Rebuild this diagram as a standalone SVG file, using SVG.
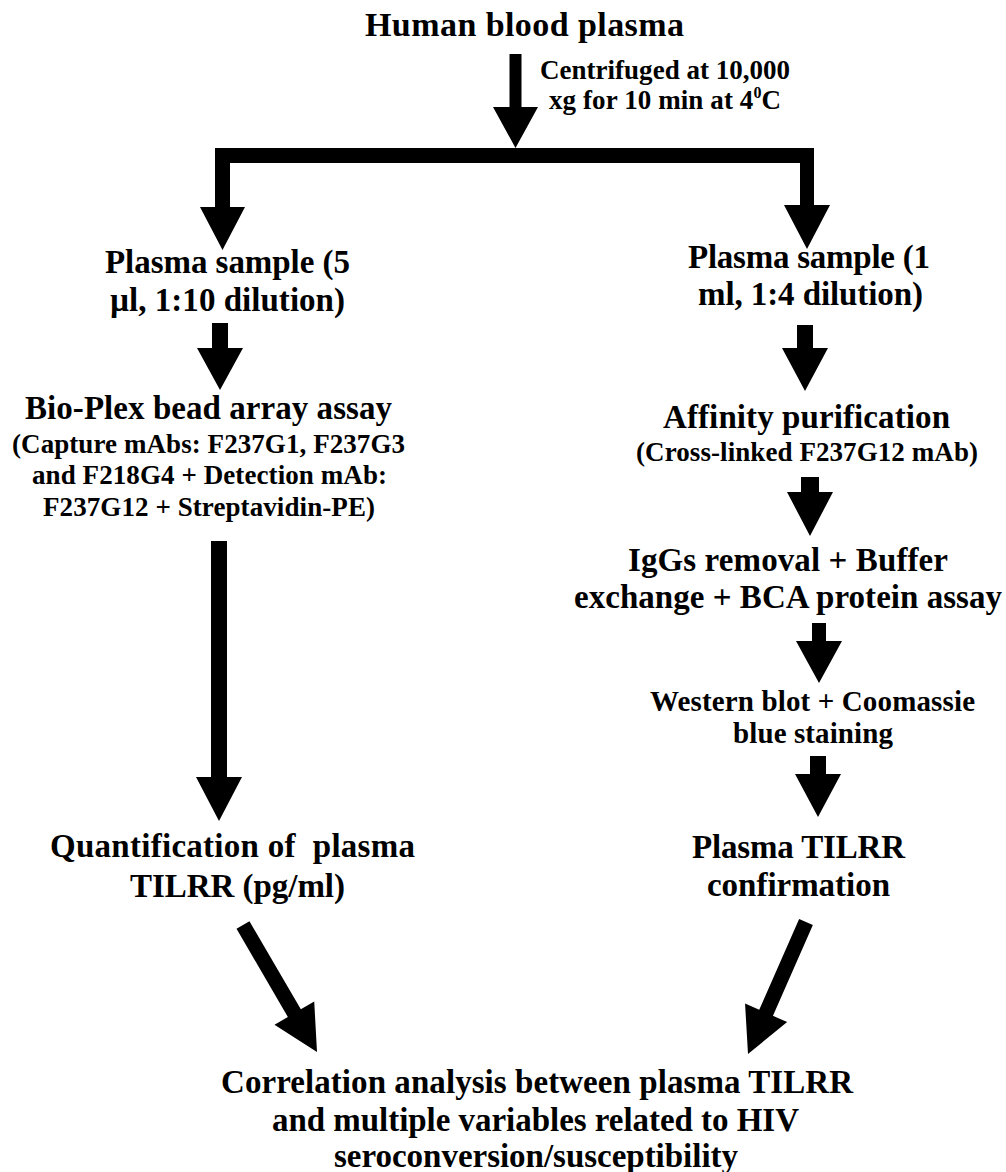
<svg xmlns="http://www.w3.org/2000/svg" width="1006" height="1172" viewBox="0 0 1006 1172">
<style>
text{font-family:"Liberation Serif","Times New Roman",Times,serif;font-weight:bold;fill:#000;text-anchor:middle}
.xl{font-size:34px}
.l{font-size:33px}
.m{font-size:29px}
.s{font-size:27px}
.arrow{fill:#000;stroke:none}
</style>
<rect width="1006" height="1172" fill="#fff"/>
<g id="connectors">
<path class="arrow" d="M509.5,54 H521.5 V107 H538 L515.5,148 L493,107 H509.5 Z"/>
<path class="arrow" d="M215,148 H814 V205 H830 L807,249 L784,205 H800 V163 H230 V207 H245 L222.5,250 L200,207 H215 Z"/>
<path class="arrow" d="M212,323 H228 V348 H243 L220,390 L197,348 H212 Z"/>
<path class="arrow" d="M211,541 H227 V777 H242 L219,821 L196,777 H211 Z"/>
<path class="arrow" d="M797,325 H813 V348 H828 L805,391 L782,348 H797 Z"/>
<path class="arrow" d="M801,477 H819 V492 H833 L810,536 L787,492 H801 Z"/>
<path class="arrow" d="M812,623 H826 V641 H842 L819,683 L796,641 H812 Z"/>
<path class="arrow" d="M810,756 H826 V774 H841 L818,817 L795,774 H810 Z"/>
<polygon class="arrow" points="249.48,921.22 300.83,1009.34 314.22,1001.54 317,1052 274.48,1024.7 287.87,1016.9 236.52,928.78"/>
<polygon class="arrow" points="799.13,918.98 759.23,1009.79 745.05,1003.56 748,1054 787.15,1022.06 772.97,1015.83 812.87,925.02"/>
</g>
<g id="n-human-blood-plasma"><text class="xl" x="524.5" y="36" textLength="319" lengthAdjust="spacing">Human blood plasma</text></g>
<g id="n-centrifuged">
<text class="s" x="665" y="79" textLength="250" lengthAdjust="spacing">Centrifuged at 10,000</text>
<text class="s" x="665" y="109" textLength="232" lengthAdjust="spacing">xg for 10 min at 4<tspan font-size="16" dy="-11">0</tspan><tspan dy="11">C</tspan></text>
</g>
<g id="n-plasma-sample-5">
<text class="l" x="227.5" y="273" textLength="245" lengthAdjust="spacing">Plasma sample (5</text>
<text class="l" x="227.5" y="311" textLength="235" lengthAdjust="spacing">µl, 1:10 dilution)</text>
</g>
<g id="n-bioplex">
<text class="l" x="208.5" y="419" textLength="367" lengthAdjust="spacing">Bio-Plex bead array assay</text>
<text class="s" x="208.5" y="453" textLength="393" lengthAdjust="spacing">(Capture mAbs: F237G1, F237G3</text>
<text class="s" x="209.5" y="484" textLength="355" lengthAdjust="spacing">and F218G4 + Detection mAb:</text>
<text class="s" x="209" y="516" textLength="332" lengthAdjust="spacing">F237G12 + Streptavidin-PE)</text>
</g>
<g id="n-quantification">
<text class="l" x="232.5" y="857" textLength="365" lengthAdjust="spacing" xml:space="preserve">Quantification of  plasma</text>
<text class="l" x="237.5" y="897" textLength="215" lengthAdjust="spacing">TILRR (pg/ml)</text>
</g>
<g id="n-plasma-sample-1">
<text class="l" x="809" y="268" textLength="242" lengthAdjust="spacing">Plasma sample (1</text>
<text class="l" x="810.5" y="305" textLength="225" lengthAdjust="spacing">ml, 1:4 dilution)</text>
</g>
<g id="n-affinity">
<text class="l" x="806.5" y="428" textLength="287" lengthAdjust="spacing">Affinity purification</text>
<text class="s" x="807" y="461" textLength="342" lengthAdjust="spacing">(Cross-linked F237G12 mAb)</text>
</g>
<g id="n-iggs">
<text class="l" x="788" y="571" textLength="320" lengthAdjust="spacing">IgGs removal + Buffer</text>
<text class="l" x="788" y="608" textLength="428" lengthAdjust="spacing">exchange + BCA protein assay</text>
</g>
<g id="n-western">
<text class="m" x="812.5" y="711" textLength="325" lengthAdjust="spacing">Western blot + Coomassie</text>
<text class="m" x="813" y="743" textLength="160" lengthAdjust="spacing">blue staining</text>
</g>
<g id="n-confirmation">
<text class="l" x="798.5" y="858" textLength="213" lengthAdjust="spacing">Plasma TILRR</text>
<text class="l" x="798.5" y="896" textLength="183" lengthAdjust="spacing">confirmation</text>
</g>
<g id="n-correlation">
<text class="l" x="537" y="1093" textLength="632" lengthAdjust="spacing">Correlation analysis between plasma TILRR</text>
<text class="l" x="535.5" y="1131" textLength="527" lengthAdjust="spacing">and multiple variables related to HIV</text>
<text class="l" x="536" y="1167" textLength="404" lengthAdjust="spacing">seroconversion/susceptibility</text>
</g>
</svg>
